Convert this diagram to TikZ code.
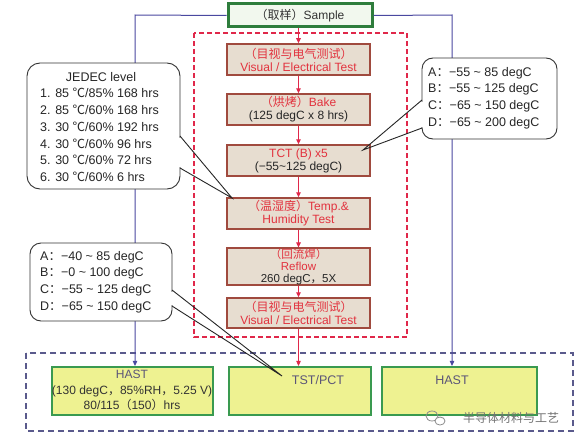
\documentclass[tikz,border=0pt]{standalone}
\usepackage{fontspec}
\setmainfont{Liberation Sans}
\newfontfamily\cjk{Noto Sans CJK SC}
\usetikzlibrary{arrows.meta,calc}
\definecolor{boxred}{HTML}{A04A3E}
\definecolor{beige}{HTML}{E7DDD0}
\definecolor{txtred}{HTML}{E2323E}
\definecolor{dashred}{HTML}{E0284A}
\definecolor{dashpurple}{HTML}{5A5A8C}
\definecolor{lineblue}{HTML}{4A48A0}
\definecolor{grnborder}{HTML}{3A9A50}
\definecolor{grnfill}{HTML}{EEF291}
\definecolor{smpborder}{HTML}{2E7D3C}
\definecolor{smpfill}{HTML}{F2F8EE}
\definecolor{btxt}{HTML}{5B5578}
\tikzset{
  pbox/.style={draw=boxred, fill=beige, line width=1.5pt, minimum width=143pt, minimum height=31pt, inner sep=0pt, align=center, text=txtred, font=\fontsize{12}{13}\selectfont},
  gbox/.style={draw=grnborder, fill=grnfill, line width=2.2pt, minimum height=48pt, inner sep=0pt},
  callout/.style={draw=black!80, fill=white, line width=0.9pt, rounded corners=11pt, inner sep=0pt},
  ctext/.style={align=left, inner sep=0pt, font=\fontsize{12.5}{16.7}\selectfont, text=black!85},
  redarr/.style={draw=dashred, line width=1pt, -{Triangle[length=5pt,width=4.5pt]}},
  bluearr/.style={draw=lineblue, line width=1pt, -{Triangle[length=5pt,width=4.5pt]}},
  ptr/.style={draw=black!85, line width=0.9pt},
  gap/.style={draw=white, line width=2.5pt},
}
\begin{document}
\begin{tikzpicture}[x=1pt,y=-1pt]
\useasboundingbox[fill=white] (0,0) rectangle (585,444);
% dashed frames
\draw[dashred, line width=1.3pt, dash pattern=on 5pt off 3pt] (194,33) rectangle (407,337);
\draw[dashpurple, line width=1.5pt, dash pattern=on 6pt off 4pt] (26,353) rectangle (573,431);
% sample
\node[draw=smpborder, fill=smpfill, line width=3pt, minimum width=144pt, minimum height=23pt, inner sep=0pt, font=\fontsize{12}{13}\selectfont, text=black!80] (smp) at (300,15.5) {{\cjk （取样）}Sample};
% process boxes
\node[pbox] (b1) at (298.5,59.5) {{\cjk （目视与电气测试）}\\Visual / Electrical Test};
\node[pbox] (b2) at (298.5,109.5) {{\cjk （烘烤）}Bake\\\textcolor{black!85}{(125 degC x 8 hrs)}};
\node[pbox] (b3) at (298.5,160.5) {TCT (B) x5\\\textcolor{black!85}{(−55\textasciitilde125 degC)}};
\node[pbox] (b4) at (298.5,213.5) {{\cjk （温湿度）}Temp.\&\\Humidity Test};
\node[pbox, minimum height=35pt, font=\fontsize{11.5}{12.2}\selectfont] (b5) at (298.5,266.5) {{\cjk （回流焊）}\\Reflow\\\textcolor{black!85}{260 degC{\cjk ，}5X}};
\node[pbox, minimum height=30pt] (b6) at (298.5,313) {{\cjk （目视与电气测试）}\\Visual / Electrical Test};
% bottom boxes
\node[gbox, minimum width=161pt] (hl) at (132.5,391) {};
\node[gbox, minimum width=142pt] (tst) at (300,391) {};
\node[gbox, minimum width=155pt] (hr) at (459.5,391) {};
\node[font=\fontsize{12}{15.5}\selectfont, text=btxt, align=center, anchor=north, inner sep=0pt] (hlt) at (132,370) {HAST\\\textcolor{black!80}{(130 degC{\cjk ，}85\%RH{\cjk ，}5.25 V)}\\\textcolor{black!80}{80/115{\cjk （}150{\cjk ）}hrs}};
\node[font=\fontsize{12.5}{14}\selectfont, text=btxt, inner sep=0pt] (tstt) at (318,380) {TST/PCT};
\node[font=\fontsize{12.5}{14}\selectfont, text=btxt, inner sep=0pt] (hrt) at (452,380) {HAST};
% arrows
\draw[redarr] (smp.south -| b1.north) -- (b1.north);
\draw[redarr] (b1) -- (b2);
\draw[redarr] (b2) -- (b3);
\draw[redarr] (b3) -- (b4);
\draw[redarr] (b4) -- (b5);
\draw[redarr] (b5) -- (b6);
\draw[redarr] (b6.south) -- (b6.south |- tst.north);
\coordinate (lc) at (135,15);
\coordinate (rc) at (452,15);
\draw[bluearr] (smp.west) -- (lc) -- (lc |- hl.north);
\draw[bluearr] (smp.east) -- (rc) -- (rc |- hr.north);
% callouts
\node[callout, minimum width=153pt, minimum height=126pt, rounded corners=13pt] (jb) at (103.5,126) {};
\node[ctext] (jt) at (101,77) {JEDEC level};
\node[ctext, anchor=west] (jl) at (40,135) {1. 85 {\cjk ℃}/85\% 168 hrs\\2. 85 {\cjk ℃}/60\% 168 hrs\\3. 30 {\cjk ℃}/60\% 192 hrs\\4. 30 {\cjk ℃}/60\% 96 hrs\\5. 30 {\cjk ℃}/60\% 72 hrs\\6. 30 {\cjk ℃}/60\% 6 hrs};
\coordinate (ja) at (180,136); \coordinate (jc) at (180,168); \coordinate (jtip) at (232,198);
\draw[gap] ($(ja)+(0,1.5)$) -- ($(jc)+(0,-1.5)$);
\draw[ptr] (ja) -- (jtip) -- (jc);

\node[callout, minimum width=135pt, minimum height=81pt] (rb) at (489.5,98.5) {};
\node[ctext, anchor=west] (rt) at (428,98) {A{\cjk ：}−55 \textasciitilde{} 85 degC\\B{\cjk ：}−55 \textasciitilde{} 125 degC\\C{\cjk ：}−65 \textasciitilde{} 150 degC\\D{\cjk ：}−65 \textasciitilde{} 200 degC};
\coordinate (ra) at (422,100); \coordinate (rcc) at (422,128); \coordinate (rtip) at (363,150);
\draw[gap] ($(ra)+(0,1.5)$) -- ($(rcc)+(0,-1.5)$);
\draw[ptr] (ra) -- (rtip) -- (rcc);

\node[callout, minimum width=142pt, minimum height=78pt] (lb) at (101,282) {};
\node[ctext, anchor=west] (lt) at (40,282) {A{\cjk ：}−40 \textasciitilde{} 85 degC\\B{\cjk ：}−0 \textasciitilde{} 100 degC\\C{\cjk ：}−55 \textasciitilde{} 125 degC\\D{\cjk ：}−65 \textasciitilde{} 150 degC};
\coordinate (la) at (172,290); \coordinate (lcc) at (172,306); \coordinate (ltip) at (282,376);
\draw[gap] ($(la)+(0,1.5)$) -- ($(lcc)+(0,-1.5)$);
\draw[ptr] (la) -- (ltip) -- (lcc);
% watermark
\draw[black!45, line width=0.8pt] (432,416) ellipse (6pt and 5pt);
\draw[black!45, line width=0.8pt, fill=white] (440,421) ellipse (5pt and 4pt);
\node[font=\cjk\fontsize{12}{13}\selectfont, text=black!55, inner sep=0pt] (wm) at (511,418) {半导体材料与工艺};
\end{tikzpicture}
\end{document}
